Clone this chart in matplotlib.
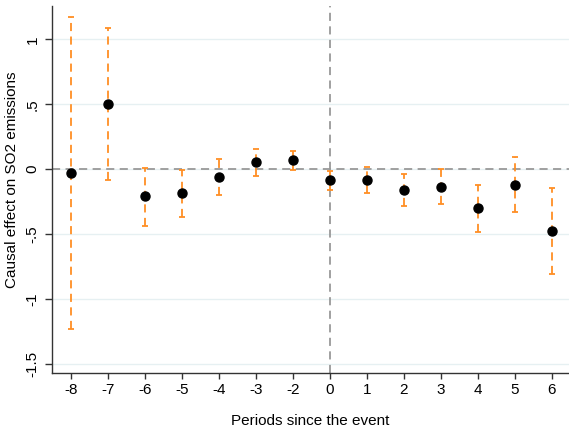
import matplotlib
matplotlib.use('Agg')
import matplotlib.pyplot as plt
import numpy as np

plt.rcParams['font.family'] = ['Liberation Sans', 'DejaVu Sans']

# event-time periods (-1 is the omitted reference period)
periods = ['-8', '-7', '-6', '-5', '-4', '-3', '-2', '0', '1', '2', '3', '4', '5', '6']
coef = [-0.03, 0.50, -0.21, -0.185, -0.06, 0.054, 0.069, -0.085, -0.082, -0.159, -0.134, -0.30, -0.121, -0.473]
ci_low = [-1.228, -0.082, -0.434, -0.365, -0.198, -0.054, -0.008, -0.160, -0.183, -0.280, -0.270, -0.481, -0.331, -0.804]
ci_high = [1.171, 1.091, 0.012, -0.005, 0.077, 0.156, 0.143, -0.011, 0.018, -0.039, 0.0, -0.123, 0.092, -0.146]
yticks = [-1.5, -1, -0.5, 0, 0.5, 1]
ytick_labels = ['-1.5', '-1', '-.5', '0', '.5', '1']

fig = plt.figure(figsize=(5.69, 4.32), dpi=100)
ax = fig.add_axes([0.092, 0.136, 0.908, 0.849])

x = np.arange(len(periods))
orange = '#ff8f24'

ax.vlines(x, ci_low, ci_high, colors=orange, linestyles=(0, (4.5, 3)), linewidth=1.3, zorder=2)
ax.hlines(ci_low, x - 0.08, x + 0.08, colors=orange, linewidth=1.3, zorder=2)
ax.hlines(ci_high, x - 0.08, x + 0.08, colors=orange, linewidth=1.3, zorder=2)
ax.plot(x, coef, 'o', color='black', markersize=6.5, zorder=3)

# reference lines
ax.axhline(0, color='#999999', linestyle=(0, (4.5, 3)), linewidth=1.3, zorder=1)
ax.axvline(periods.index('0'), color='#999999', linestyle=(0, (4.5, 3)), linewidth=1.3, zorder=1)

ax.set_xlim(-0.5, 13.47)
ax.set_ylim(-1.572, 1.253)
ax.set_xticks(x)
ax.set_xticklabels(periods)
ax.set_yticks(yticks)
ax.set_yticklabels(ytick_labels, rotation=90, va='center')
ax.yaxis.grid(True, color='#e6f0f2', linewidth=1.0, zorder=0)
ax.set_axisbelow(True)

for side in ['top', 'right']:
    ax.spines[side].set_visible(False)
for side in ['left', 'bottom']:
    ax.spines[side].set_color('#333333')
    ax.spines[side].set_linewidth(1.0)
ax.tick_params(axis='y', colors='#333333', labelcolor='black', length=5, width=1.0, labelsize=11, pad=4)
ax.tick_params(axis='x', colors='#333333', labelcolor='black', length=4, width=1.0, labelsize=11, pad=3)

ax.set_xlabel('Periods since the event', fontsize=11)
ax.xaxis.set_label_coords(0.5, -0.112)
ax.set_ylabel('Causal effect on SO2 emissions', fontsize=11)
ax.yaxis.set_label_coords(-0.064, 0.527)

fig.savefig('out.png', dpi=100)
